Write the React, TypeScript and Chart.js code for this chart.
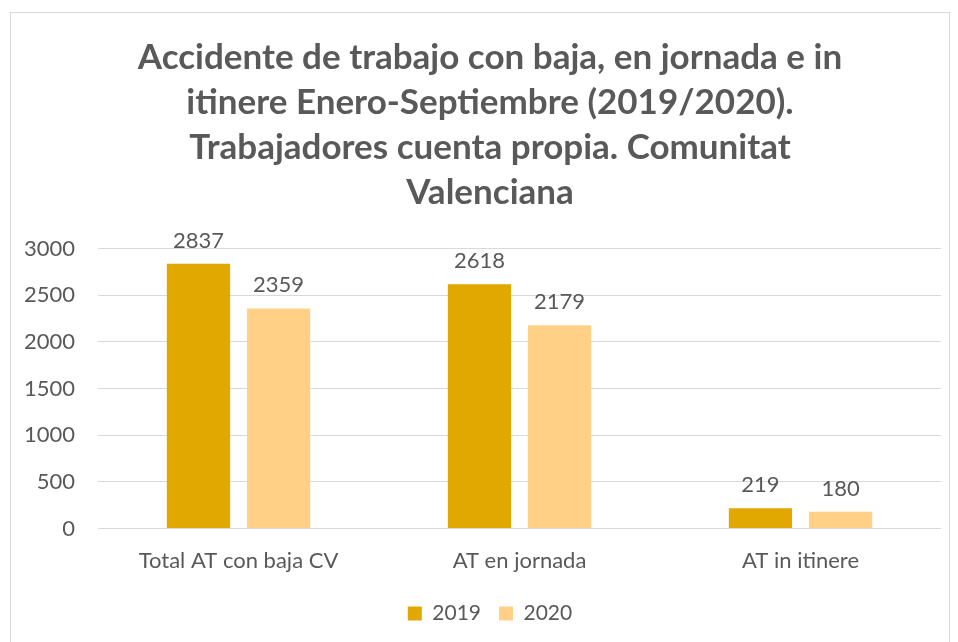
import React, { useEffect, useRef } from "react";
import { Chart, registerables } from "chart.js";

Chart.register(...registerables);

const categories = ["Total AT con baja CV", "AT en jornada", "AT in itinere"];
const series2019 = [2837, 2618, 219];
const series2020 = [2359, 2179, 180];
const seriesNames = ["2019", "2020"];
const titleLines = [
  "Accidente de trabajo con baja, en jornada e in",
  "itinere Enero-Septiembre (2019/2020).",
  "Trabajadores cuenta propia. Comunitat",
  "Valenciana",
];

const TEXT = "#595959";
const FONT = "Lato, 'Open Sans', sans-serif";

const labelPlugin = {
  id: "barLabels",
  afterLayout(chart: any) {
    // let the y tick labels use the space left of the axis box (no clipping)
    if (chart.scales.y) chart.scales.y.left = 0;
  },
  afterDatasetsDraw(chart: any) {
    const ctx = chart.ctx;
    ctx.save();
    ctx.fillStyle = TEXT;
    ctx.font = `22px ${FONT}`;
    ctx.textAlign = "center";
    ctx.textBaseline = "alphabetic";
    chart.data.datasets.forEach((ds: any, i: number) => {
      const meta = chart.getDatasetMeta(i);
      meta.data.forEach((bar: any, j: number) => {
        ctx.fillText(String(ds.data[j]), bar.x, bar.y - 16);
      });
    });
    ctx.restore();
  },
};

export default function App() {
  const ref = useRef<HTMLCanvasElement>(null);
  useEffect(() => {
    if (!ref.current) return;
    const chart = new Chart(ref.current, {
      type: "bar",
      data: {
        labels: categories,
        datasets: [
          { label: seriesNames[0], data: series2019, backgroundColor: "#E0A800", categoryPercentage: 0.57, barPercentage: 0.79 },
          { label: seriesNames[1], data: series2020, backgroundColor: "#FFD085", categoryPercentage: 0.57, barPercentage: 0.79 },
        ],
      },
      options: {
        animation: false,
        responsive: false,
        layout: { padding: { left: 28, right: 8, top: 14, bottom: 17 } },
        plugins: {
          title: {
            display: true,
            text: titleLines,
            color: TEXT,
            font: { family: FONT, size: 35, weight: "bold", lineHeight: 1.29 },
            padding: { top: 8, bottom: 33 },
          },
          legend: {
            position: "bottom",
            labels: {
              color: TEXT,
              font: { family: FONT, size: 21 },
              boxWidth: 14,
              boxHeight: 14,
              padding: 18,
            },
          },
          tooltip: { enabled: false },
        },
        scales: {
          x: {
            grid: { display: false },
            border: { display: false },
            ticks: { color: TEXT, font: { family: FONT, size: 22 }, padding: 11 },
          },
          y: {
            min: 0,
            max: 3000,
            afterFit: (scale: any) => {
              scale.width = 59;
            },
            ticks: {
              stepSize: 500,
              color: TEXT,
              font: { family: FONT, size: 22 },
              padding: 23,
              callback: (v: any) => String(v),
            },
            grid: { color: "#D9D9D9", lineWidth: 1, drawTicks: false },
            border: { display: false },
          },
        },
      },
      plugins: [labelPlugin],
    });
    return () => chart.destroy();
  }, []);
  return (
    <div style={{ padding: "4px 0 0 2px" }}>
      <div style={{ width: 940, height: 640, border: "1px solid #D9D9D9", boxSizing: "border-box" }}>
        <canvas ref={ref} width={938} height={638} />
      </div>
    </div>
  );
}
